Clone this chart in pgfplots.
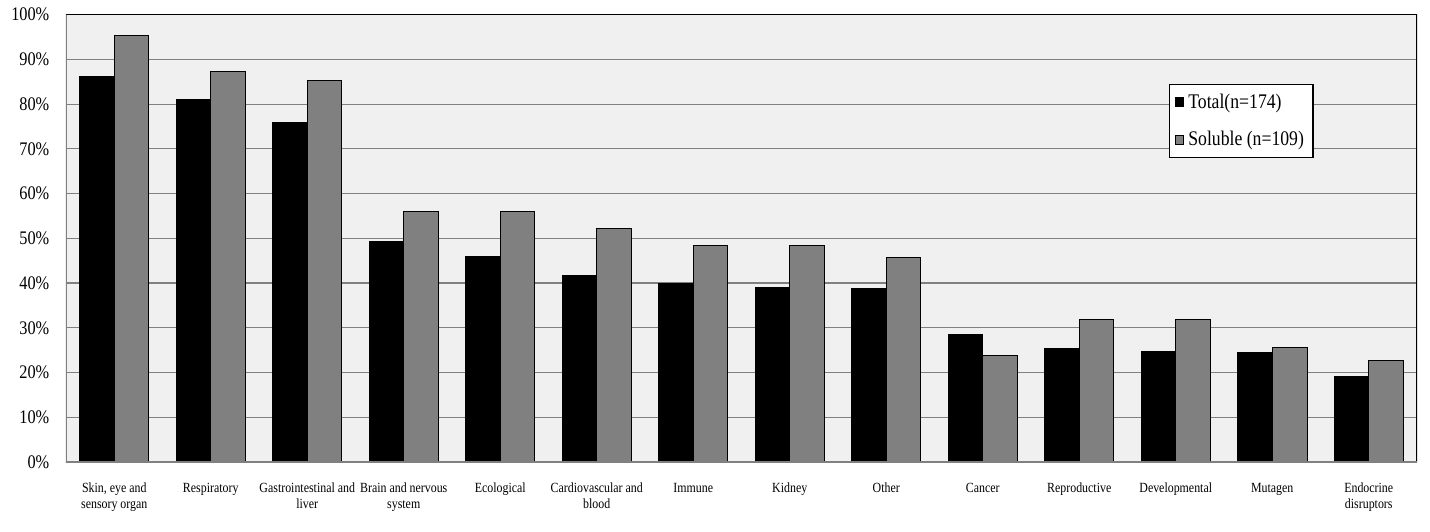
\documentclass[border=0pt]{standalone}
\usepackage{pgfplots}
\pgfplotsset{compat=1.18}
\usepackage{fontspec}
\setmainfont{Liberation Serif}[FakeStretch=0.85]
\definecolor{bg}{RGB}{240,240,240}
\definecolor{gbar}{RGB}{128,128,128}
\definecolor{gridc}{RGB}{128,128,128}
\begin{document}
\begin{tikzpicture}
\useasboundingbox (-33pt,-34.5pt) rectangle (682pt,231pt);
\begin{axis}[
 at={(0,0)}, anchor=south west,
 scale only axis, width=675.5pt, height=223.65pt,
 xmin=-0.5, xmax=13.5, ymin=0, ymax=100,
 ybar=0pt, bar width=0.36,
 axis line style={draw=none},
 axis background/.style={fill=bg},
 ymajorgrids, major grid style={draw=gridc, line width=0.6pt},
 ytick={0,10,...,100},
 yticklabel={\pgfmathprintnumber[assume math mode=true]{\tick}\%},
 yticklabel style={font=\fontsize{9.6}{11}\selectfont, xshift=-4.8pt},
 xtick={0,...,13},
 xticklabels={{Skin, eye and\\sensory organ},{Respiratory},{Gastrointestinal and\\liver},{Brain and nervous\\system},{Ecological},{Cardiovascular and\\blood},{Immune},{Kidney},{Other},{Cancer},{Reproductive},{Developmental},{Mutagen},{Endocrine\\disruptors}},
 xticklabel style={font=\fontsize{7}{8}\selectfont, align=center, yshift=-7pt},
 major tick length=0pt,
 legend style={at={(0.8164,0.845)}, anchor=north west, draw=black, fill=white, line width=0.6pt,
   font=\fontsize{10.4}{12}\selectfont, inner xsep=2.5pt, inner ysep=2.5pt, row sep=6pt, cells={anchor=west}},
 legend image code/.code={\draw[#1, line width=0.5pt] (0pt,-2.2pt) rectangle (4.4pt,2.2pt);},
]
\addplot[fill=black, draw=black, line width=0.5pt] coordinates {
(0,86.2) (1,81.0) (2,75.8) (3,49.4) (4,46.0) (5,41.6) (6,39.8) (7,39.1) (8,38.7) (9,28.6) (10,25.4) (11,24.7) (12,24.4) (13,19.2)};
\addplot[fill=gbar, draw=black, line width=0.5pt] coordinates {
(0,95.3) (1,87.2) (2,85.3) (3,55.9) (4,55.9) (5,52.1) (6,48.4) (7,48.4) (8,45.8) (9,23.9) (10,31.9) (11,31.9) (12,25.7) (13,22.8)};
\legend{Total(n=174), Soluble (n=109)}
\draw[black, line width=0.6pt] (rel axis cs:0,1) -- (rel axis cs:1,1) -- (rel axis cs:1,0);
\draw[gridc, line width=0.8pt] (rel axis cs:0,1) -- (rel axis cs:0,0) -- (rel axis cs:1,0);
\end{axis}
\end{tikzpicture}
\end{document}
